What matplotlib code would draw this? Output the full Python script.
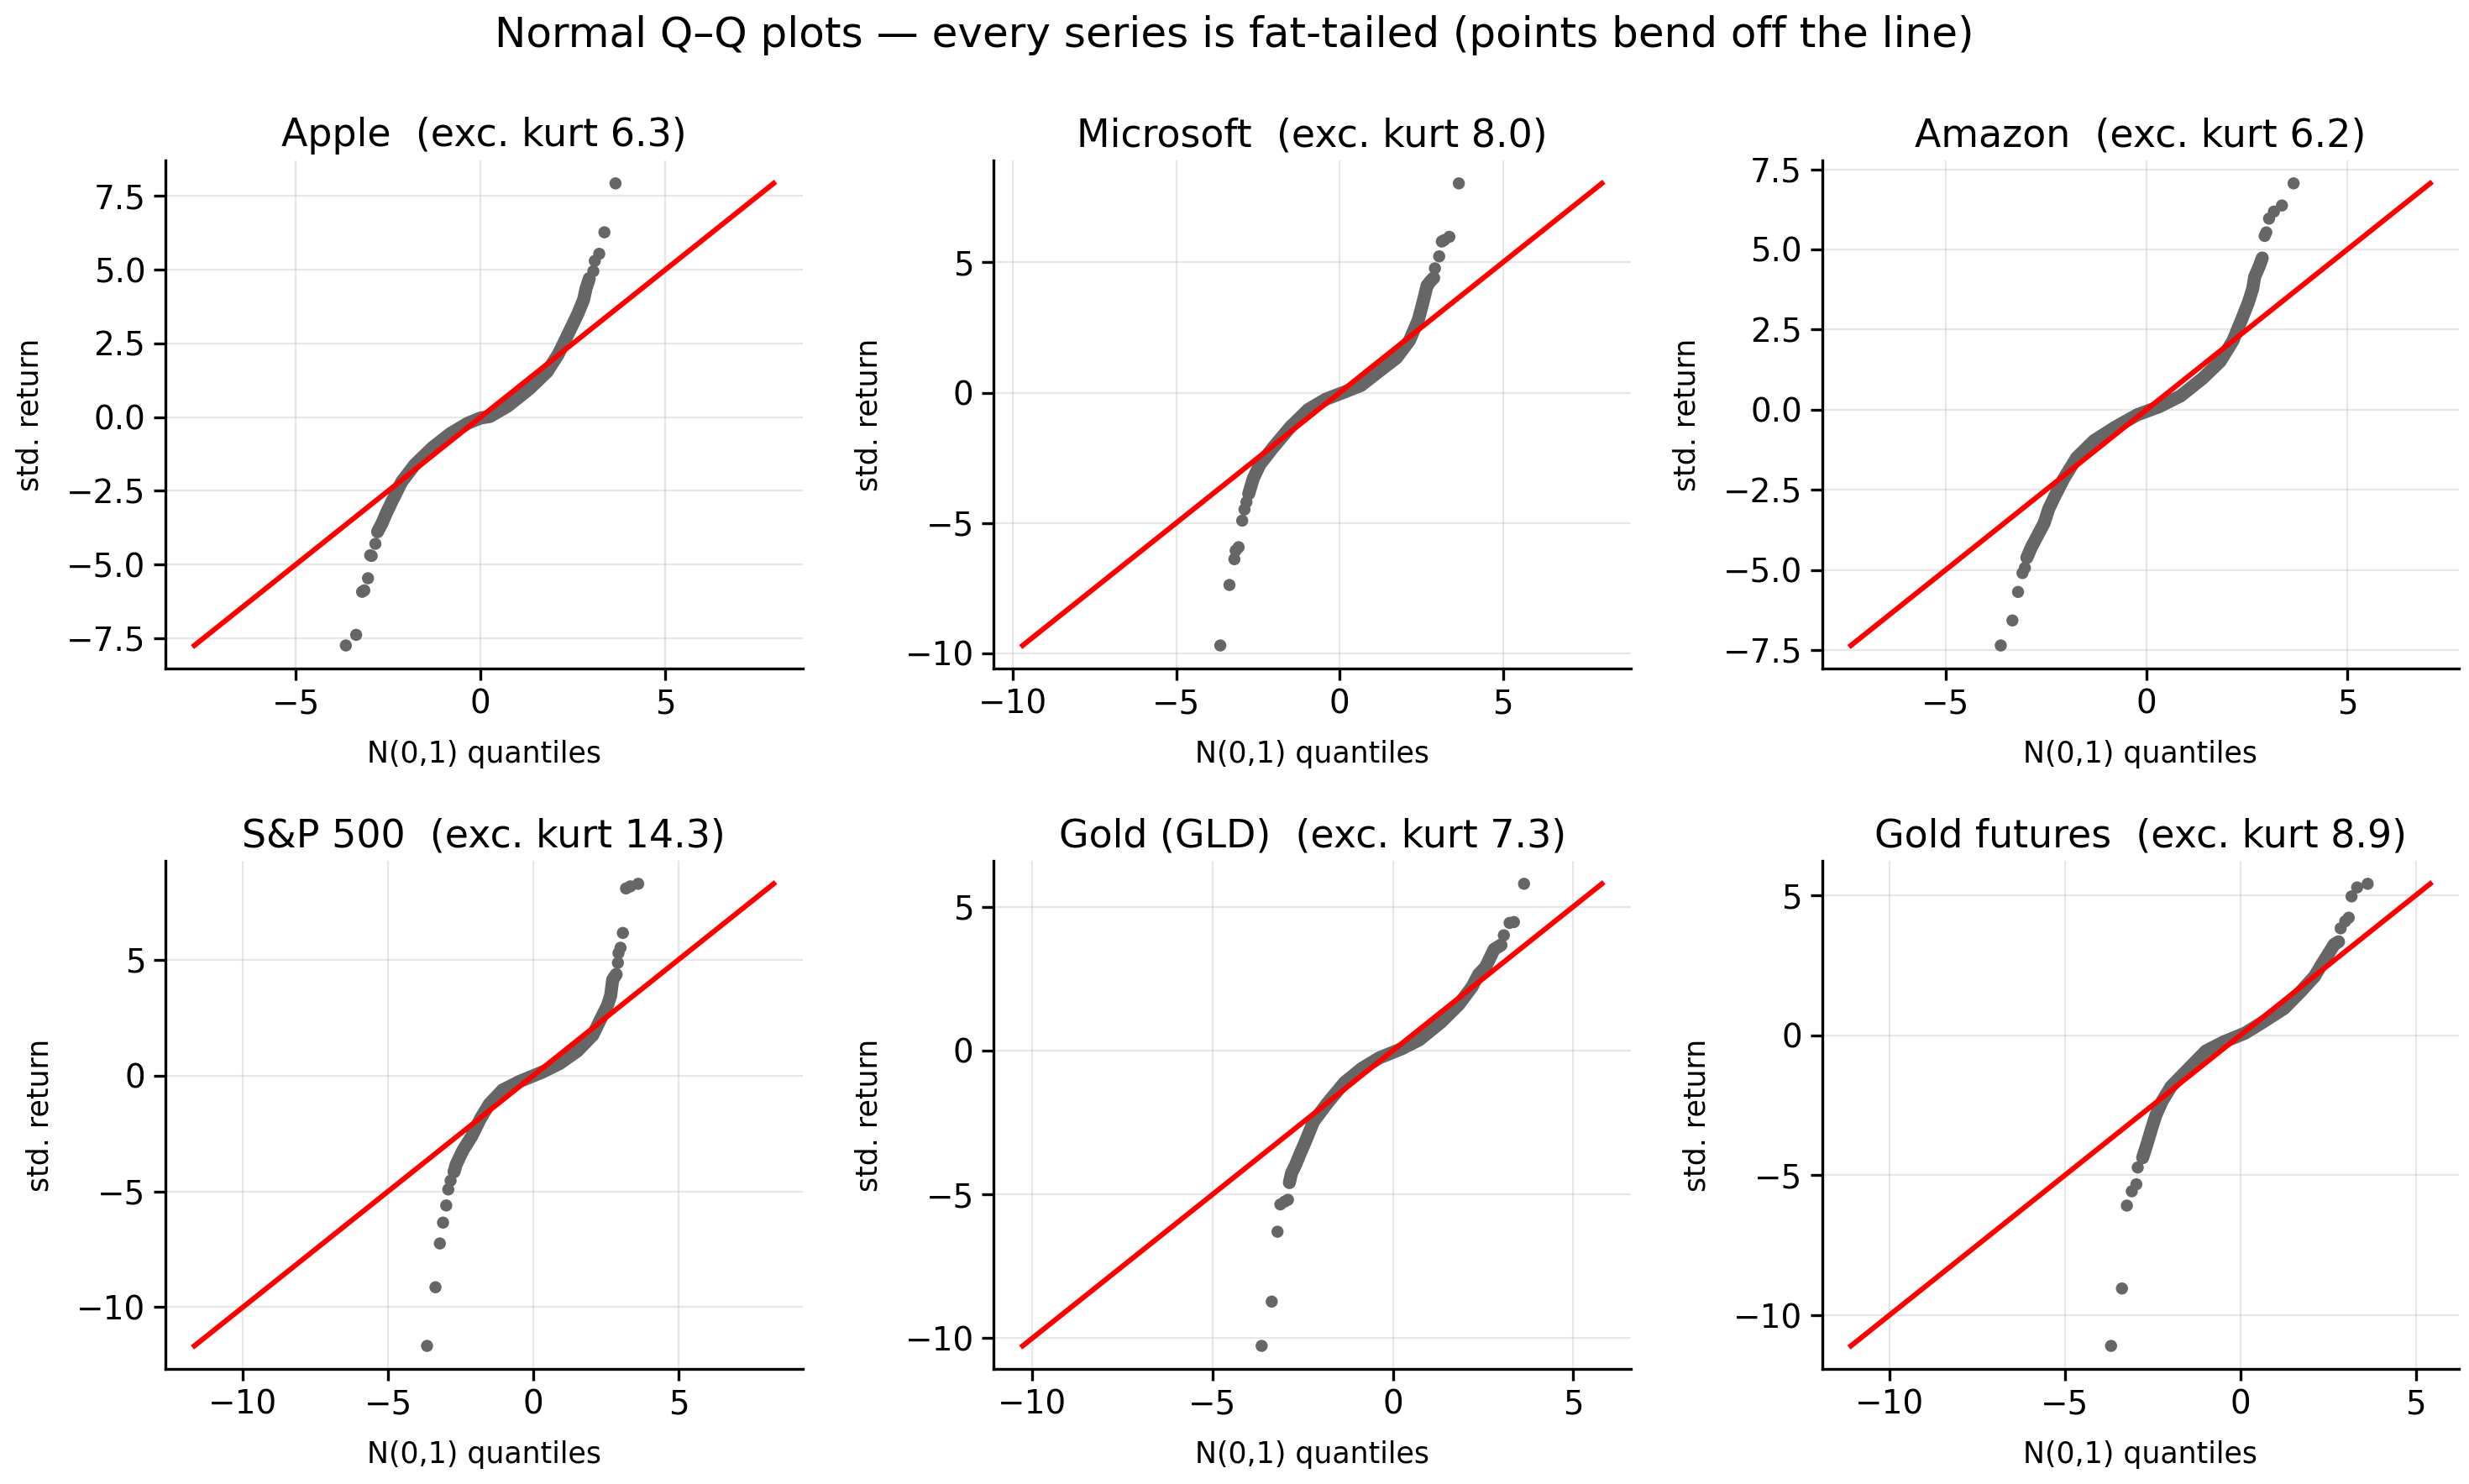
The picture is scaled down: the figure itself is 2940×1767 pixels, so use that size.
import numpy as np
import matplotlib
matplotlib.use("Agg")
import matplotlib.pyplot as plt

# values (theoretical N(0,1) quantile, standardised return)
names = ["Apple", "Microsoft", "Amazon", "S&P 500", "Gold (GLD)", "Gold futures"]
kurt = [6.3, 8.0, 6.2, 14.3, 7.3, 8.9]

aapl_q = [-3.65, -3.37, -3.21, -3.15, -3.05, -2.99, -2.95, -2.85, -2.79, -2.67, -2.55, -2.37, -2.14, -1.78,
          -1.30, -0.82, -0.35, 0.0, 0.25, 0.73, 1.32, 1.80, 2.10, 2.28, 2.46, 2.64, 2.79, 2.85, 2.94, 3.05,
          3.09, 3.21, 3.35, 3.65]
aapl_r = [-7.75, -7.39, -5.93, -5.88, -5.47, -4.69, -4.71, -4.30, -3.89, -3.60, -3.25, -2.78, -2.20, -1.61,
          -1.03, -0.56, -0.21, -0.03, 0.02, 0.37, 0.96, 1.54, 2.13, 2.59, 3.06, 3.53, 4.00, 4.35, 4.70, 4.95,
          5.30, 5.54, 6.27, 7.93]

msft_q = [-3.65, -3.37, -3.22, -3.18, -3.09, -2.98, -2.91, -2.85, -2.78, -2.64, -2.44, -2.03, -1.50, -0.96,
          -0.42, 0.12, 0.66, 1.20, 1.74, 2.14, 2.41, 2.55, 2.68, 2.80, 2.88, 2.92, 3.05, 3.13, 3.20, 3.36, 3.65]
msft_r = [-9.70, -7.38, -6.39, -6.06, -5.93, -4.91, -4.48, -4.20, -3.88, -3.29, -2.76, -2.10, -1.31, -0.65,
          -0.25, 0.01, 0.28, 0.81, 1.33, 2.00, 2.79, 3.45, 4.11, 4.30, 4.40, 4.77, 5.23, 5.80, 5.85, 5.98, 8.03]

amzn_q = [-3.63, -3.34, -3.20, -3.09, -3.03, -2.98, -2.87, -2.71, -2.55, -2.44, -2.28, -2.06, -1.74, -1.31,
          -0.77, -0.23, 0.31, 0.85, 1.39, 1.83, 2.15, 2.36, 2.53, 2.64, 2.69, 2.80, 2.88, 2.94, 2.98, 3.05,
          3.17, 3.37, 3.66]
amzn_r = [-7.36, -6.58, -5.69, -5.10, -4.94, -4.62, -4.30, -3.92, -3.54, -3.11, -2.69, -2.15, -1.50, -0.97,
          -0.54, -0.16, 0.09, 0.43, 0.97, 1.50, 2.15, 2.79, 3.33, 3.76, 4.14, 4.46, 4.73, 5.42, 5.53, 5.96,
          6.18, 6.37, 7.06]

spx_q = [-3.66, -3.37, -3.22, -3.11, -3.00, -2.93, -2.85, -2.73, -2.66, -2.43, -2.12, -1.82, -1.52, -1.06,
         -0.46, 0.30, 0.91, 1.52, 2.05, 2.35, 2.55, 2.66, 2.73, 2.85, 2.91, 2.93, 3.00, 3.08, 3.19, 3.34, 3.61]
spx_r = [-11.67, -9.14, -7.25, -6.35, -5.61, -4.92, -4.54, -4.16, -3.85, -3.24, -2.62, -1.86, -1.24, -0.63,
         -0.25, 0.14, 0.52, 1.06, 1.75, 2.52, 3.02, 3.44, 4.13, 4.36, 4.86, 5.28, 5.51, 6.15, 8.07, 8.16, 8.27]

gld_q = [-3.64, -3.36, -3.20, -3.12, -3.00, -2.91, -2.87, -2.81, -2.69, -2.57, -2.44, -2.32, -2.20, -1.83,
         -1.34, -0.86, -0.37, 0.24, 0.73, 1.34, 1.83, 2.20, 2.38, 2.57, 2.69, 2.81, 3.00, 3.08, 3.24, 3.36, 3.64]
gld_r = [-10.27, -8.73, -6.30, -5.35, -5.25, -5.19, -4.59, -4.26, -3.95, -3.58, -3.21, -2.84, -2.47, -1.85,
         -1.11, -0.62, -0.25, 0.06, 0.37, 0.99, 1.60, 2.22, 2.65, 2.90, 3.21, 3.52, 3.67, 4.01, 4.44, 4.47, 5.80]

gc_q = [-3.68, -3.37, -3.23, -3.09, -2.96, -2.92, -2.78, -2.65, -2.53, -2.40, -2.22, -1.97, -1.47, -0.98,
        -0.48, 0.14, 0.63, 1.25, 1.75, 2.12, 2.30, 2.49, 2.68, 2.80, 2.86, 2.99, 3.09, 3.17, 3.33, 3.63]
gc_r = [-11.09, -9.04, -6.08, -5.57, -5.32, -4.72, -4.37, -3.86, -3.35, -2.84, -2.34, -1.83, -1.19, -0.56,
        -0.24, 0.08, 0.46, 0.96, 1.60, 2.11, 2.49, 2.87, 3.25, 3.34, 3.82, 4.07, 4.20, 4.96, 5.28, 5.41]

# where the points sit shoulder to shoulder (x range of the solid band)
dense_lo = [-2.79, -2.78, -2.98, -2.73, -2.87, -2.78]
dense_hi = [2.94, 2.88, 2.88, 2.85, 3.00, 2.80]

all_q = [aapl_q, msft_q, amzn_q, spx_q, gld_q, gc_q]
all_r = [aapl_r, msft_r, amzn_r, spx_r, gld_r, gc_r]

dot = "#666666"

fig, axes = plt.subplots(2, 3, figsize=(14.7, 8.835), dpi=200)
fig.subplots_adjust(left=0.067, right=0.996, top=0.892, bottom=0.0775, wspace=0.30, hspace=0.378)

for i, ax in enumerate(axes.flat):
    q = np.array(all_q[i])
    r = np.array(all_r[i])
    band = (q >= dense_lo[i]) & (q <= dense_hi[i])
    ax.plot(q[band], r[band], color=dot, lw=5.6, solid_capstyle="round", solid_joinstyle="round", zorder=2)
    ax.scatter(q, r, s=27, color=dot, edgecolors="none", zorder=2)
    lo = min(q.min(), r.min())
    hi = max(q.max(), r.max())
    ax.plot([lo, hi], [lo, hi], color="red", lw=2.2, zorder=3)
    ax.set_title(f"{names[i]}  (exc. kurt {kurt[i]:.1f})", fontsize=16.5)
    ax.set_xlabel("N(0,1) quantiles", fontsize=12.5, labelpad=8.5)
    ax.set_ylabel("std. return", fontsize=12.5, labelpad=9.5)
    ax.tick_params(labelsize=14, width=1.2, length=5)
    ax.grid(True, alpha=0.3)
    for s in ("left", "bottom"):
        ax.spines[s].set_linewidth(1.2)
    ax.spines["top"].set_visible(False)
    ax.spines["right"].set_visible(False)

fig.suptitle("Normal Q\u2013Q plots \u2014 every series is fat-tailed (points bend off the line)", fontsize=18, y=0.99)

fig.savefig("out.png", dpi=200)
